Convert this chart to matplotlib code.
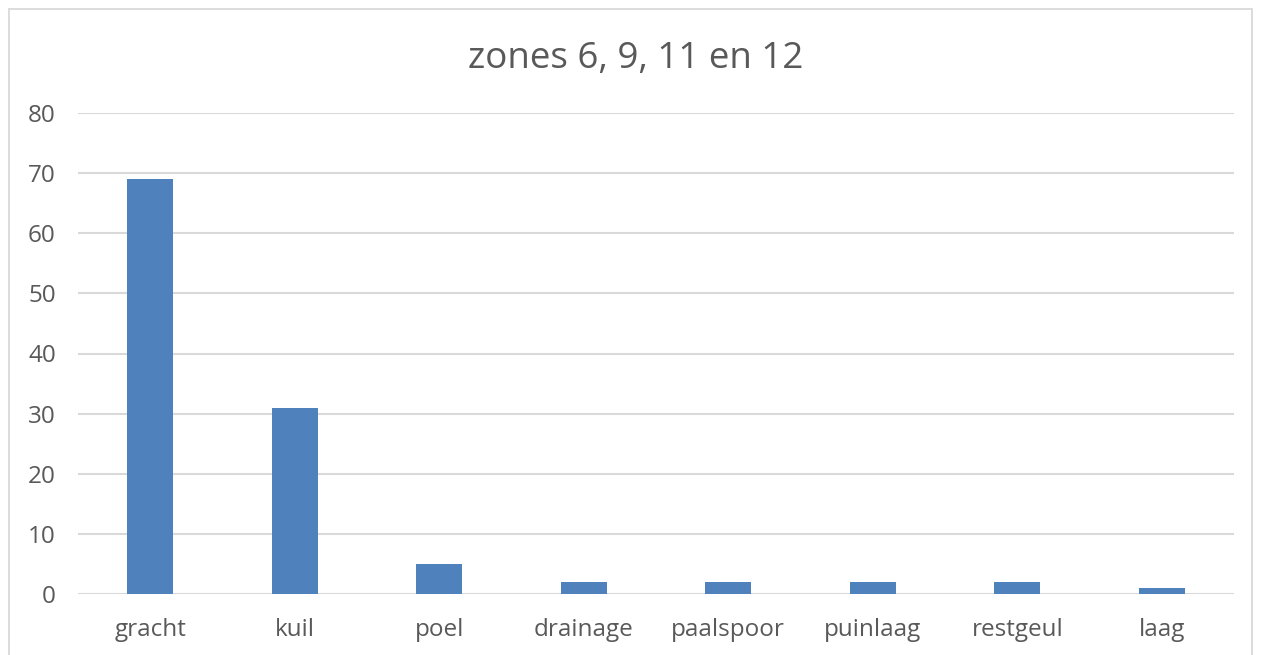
import matplotlib
matplotlib.use('Agg')
import matplotlib.pyplot as plt
from matplotlib.patches import Rectangle

# Data
categorieen = ['gracht', 'kuil', 'poel', 'drainage', 'paalspoor', 'puinlaag', 'restgeul', 'laag']
aantallen = [69, 31, 5, 2, 2, 2, 2, 1]
yticks = [0, 10, 20, 30, 40, 50, 60, 70, 80]

plt.rcParams['font.family'] = ['Open Sans', 'DejaVu Sans']
tekstkleur = '#595959'

fig = plt.figure(figsize=(12.62, 6.55), dpi=100)
ax = fig.add_axes([78 / 1262, 1 - 594 / 655, (1234 - 78) / 1262, (594 - 113) / 655])

x = range(len(categorieen))
ax.bar(x, aantallen, width=0.32, color='#4F81BD', zorder=3)

ax.set_xlim(-0.5, len(categorieen) - 0.5)
ax.set_ylim(0, 80)
ax.set_yticks(yticks)
ax.set_xticks(list(x))
ax.set_xticklabels(categorieen)
ax.yaxis.grid(True, color='#D9D9D9', linewidth=1.5, zorder=0)
ax.tick_params(axis='both', length=0, labelsize=17.5, labelcolor=tekstkleur)
ax.tick_params(axis='x', pad=17)
ax.tick_params(axis='y', pad=16)
for s in ax.spines.values():
    s.set_visible(False)

fig.text(636 / 1262, 1 - 59 / 655, 'zones 6, 9, 11 en 12', ha='center', va='center',
         fontsize=26.5, color=tekstkleur)

# rand rond de grafiek
fig.patches.append(Rectangle((9 / 1262, -0.01), (1252 - 9) / 1262, 1 - 9 / 655 + 0.01,
                             transform=fig.transFigure, fill=False,
                             edgecolor='#D9D9D9', linewidth=1.3))

fig.savefig('out.png', dpi=100)
